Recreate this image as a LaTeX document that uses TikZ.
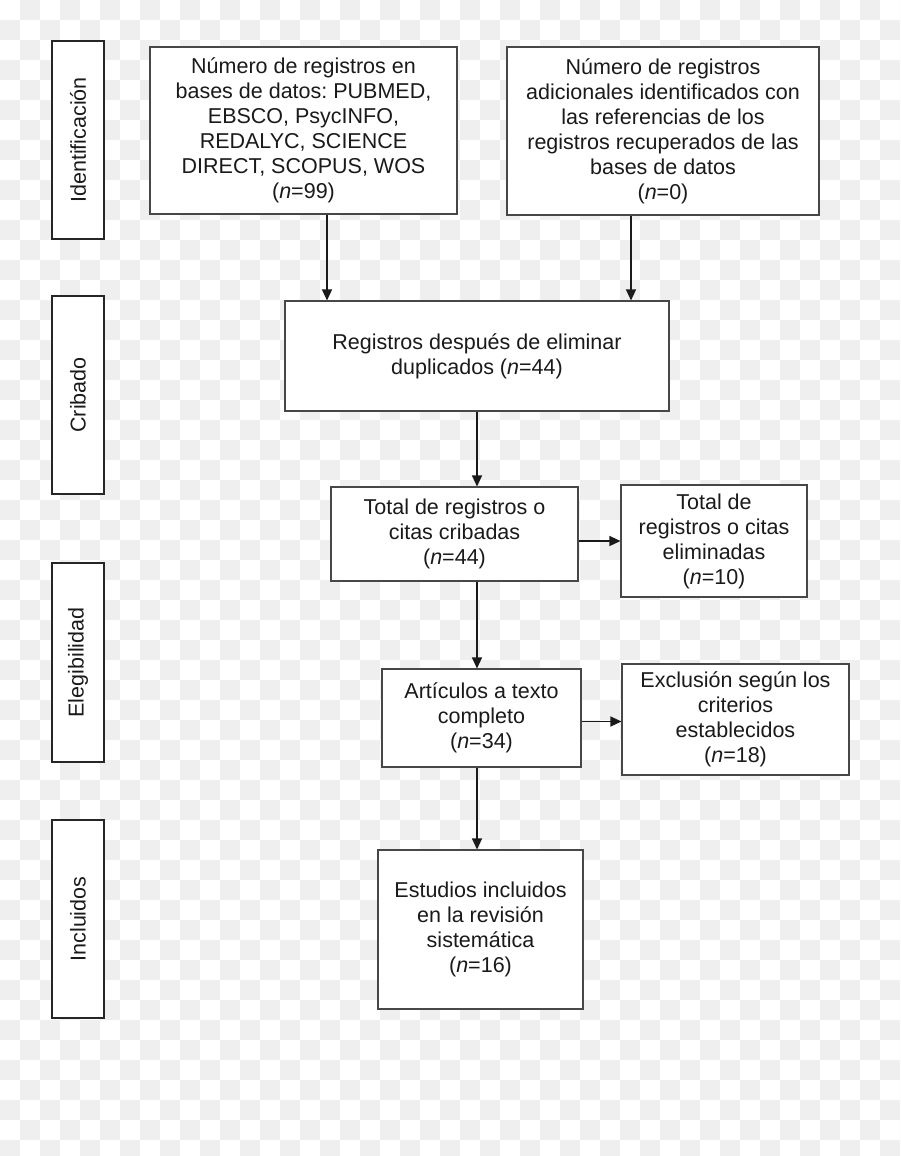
\documentclass[tikz,border=0pt]{standalone}
\usepackage{fontspec}
\setmainfont{Liberation Sans}
\usetikzlibrary{arrows.meta}
\definecolor{chk}{RGB}{239,239,239}
\definecolor{ink}{RGB}{26,26,26}
\frenchspacing
\begin{document}
\begin{tikzpicture}[x=1pt,y=-1pt,
  box/.style={draw=black!72, line width=1.1pt, fill=white, rectangle, align=center,
    inner sep=0pt, font=\fontsize{21.5}{25}\selectfont, text=ink},
  side/.style={draw=black!85, line width=2pt, fill=white, rectangle,
    minimum width=52pt, inner sep=0pt},
  sidetext/.style={rotate=90, inner sep=0pt, font=\fontsize{21.5}{25}\selectfont, text=ink},
  arr/.style={line width=1.3pt, draw=ink, -{Triangle[length=11pt,width=10pt]}}]
\useasboundingbox (0,0) rectangle (900,1156);
\fill[white] (0,0) rectangle (900,1156);
\begin{scope}
\clip (0,0) rectangle (900,1156);
\foreach \r in {0,...,57}{
  \pgfmathtruncatemacro\off{1-mod(\r,2)}
  \foreach \c in {0,2,...,44}{
    \fill[chk] ({(\c+\off)*20},{\r*20}) rectangle ++(20,20);
  }
}
\end{scope}

% side stage boxes
\node[side, minimum height=198pt] (s1) at (78,140) {};
\node[sidetext] (t1) at (s1.center) {Identificación};
\node[side, minimum height=198pt] (s2) at (78,395) {};
\node[sidetext] (t2) at (s2.center) {Cribado};
\node[side, minimum height=199pt] (s3) at (78,662.5) {};
\node[sidetext] (t3) at (s3.center) {Elegibilidad};
\node[side, minimum height=198pt] (s4) at (78,919) {};
\node[sidetext] (t4) at (s4.center) {Incluidos};

% main boxes
\node[box, minimum width=307pt, minimum height=167pt] (A) at (303.5,130.5)
  {Número de registros en\\bases de datos: PUBMED,\\EBSCO, PsycINFO,\\REDALYC, SCIENCE\\DIRECT, SCOPUS, WOS\\(\textit{n}=99)};
\node[box, minimum width=312pt, minimum height=168pt] (B) at (663,131)
  {Número de registros\\adicionales identificados con\\las referencias de los\\registros recuperados de las\\bases de datos\\(\textit{n}=0)};
\node[box, minimum width=384pt, minimum height=110pt] (C) at (477,356)
  {Registros después de eliminar\\duplicados (\textit{n}=44)};
\node[box, minimum width=247pt, minimum height=94pt] (D) at (454.5,534)
  {Total de registros o\\citas cribadas\\(\textit{n}=44)};
\node[box, minimum width=186pt, minimum height=112pt] (E) at (714,541)
  {Total de\\registros o citas\\eliminadas\\(\textit{n}=10)};
\node[box, minimum width=199pt, minimum height=98pt] (F) at (481.5,718)
  {Artículos a texto\\completo\\(\textit{n}=34)};
\node[box, minimum width=227pt, minimum height=111pt] (G) at (735.5,719.5)
  {Exclusión según los\\criterios\\establecidos\\(\textit{n}=18)};
\node[box, minimum width=205pt, minimum height=159pt] (H) at (480.5,929.5)
  {Estudios incluidos\\en la revisión\\sistemática\\(\textit{n}=16)};

% connector guide coordinates
\coordinate (xa) at (327,0);
\coordinate (xb) at (631,0);
\coordinate (xs) at (477,0);
\coordinate (yf) at (0,721.5);

\draw[arr] (A.south -| xa) -- (C.north -| xa);
\draw[arr] (B.south -| xb) -- (C.north -| xb);
\draw[arr] (C.south -| xs) -- (D.north -| xs);
\draw[arr] (D.east |- E.west) -- (E.west);
\draw[arr] (D.south -| xs) -- (F.north -| xs);
\draw[arr] (F.east |- yf) -- (G.west |- yf);
\draw[arr] (F.south -| xs) -- (H.north -| xs);
\end{tikzpicture}
\end{document}
